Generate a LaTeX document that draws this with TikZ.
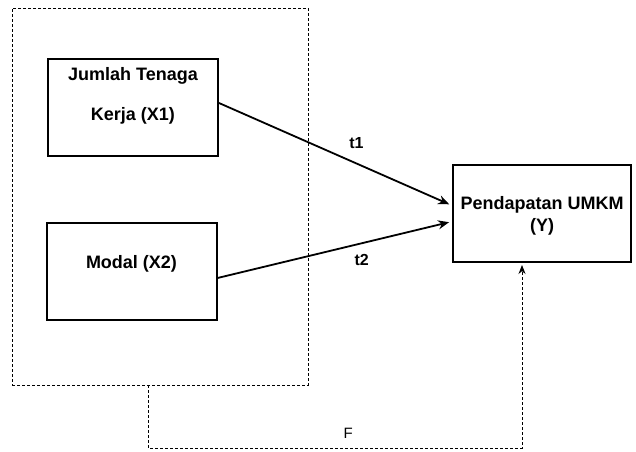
\documentclass[tikz,border=0pt]{standalone}
\usepackage{fontspec}
\setmainfont{Liberation Sans}
\usetikzlibrary{calc, positioning, arrows.meta}

\begin{document}
\begin{tikzpicture}[x=1pt, y=-1pt,
    varbox/.style={draw, line width=2pt, minimum width=170pt, minimum height=97pt, inner sep=0pt},
    vartext/.style={font=\fontsize{18}{21}\selectfont\bfseries, align=center, inner sep=0pt},
    grpbox/.style={draw, line width=0.8pt, dash pattern=on 3pt off 2pt, minimum width=296pt, minimum height=377pt, inner sep=0pt},
    link/.style={line width=1.8pt, -{Stealth[length=11pt, width=9pt]}, shorten >=3pt},
    flink/.style={line width=0.8pt, dash pattern=on 3pt off 2pt, -{Stealth[length=9pt, width=7pt]}},
    coef/.style={font=\fontsize{16}{18}\selectfont\bfseries, inner sep=0pt}]
  \useasboundingbox (0,0) rectangle (636,451);

  % Independent variables (dashed group)
  \node[grpbox] (grp) at (160,196.5) {};
  \node[varbox] (x1) at (133,107) {};
  \node[vartext] (x1t) at (133,96) {Jumlah Tenaga\\[19pt]Kerja (X1)};
  \node[varbox] (x2) at (131.5,271.5) {};
  \node[vartext] (x2t) at (131.5,264) {Modal (X2)};

  % Dependent variable
  \node[varbox, minimum width=178pt] (y) at (542,213.5) {};
  \node[vartext] (yt) at (542,216) {Pendapatan UMKM\\[1pt](Y)};

  % Partial effects
  \draw[link] ([yshift=4pt]x1.east) -- ([yshift=8pt]y.west)
    node[coef, pos=0.59, above=14pt] (t1) {t1};
  \draw[link] ([yshift=-6.5pt]x2.east) -- ([yshift=-8pt]y.west)
    node[coef, pos=0.615, below=10pt] (t2) {t2};

  % Simultaneous effect
  \coordinate (fstart) at (148,385);
  \coordinate (fa) at (148,448);
  \coordinate (fb) at (522,448);
  \coordinate (fend) at (522,265);
  \draw[flink] (fstart) -- (fa) -- (fb)
    node[pos=0.535, above=9pt, inner sep=0pt, font=\fontsize{15}{18}\selectfont] (f) {F}
    -- (fend);
\end{tikzpicture}
\end{document}
